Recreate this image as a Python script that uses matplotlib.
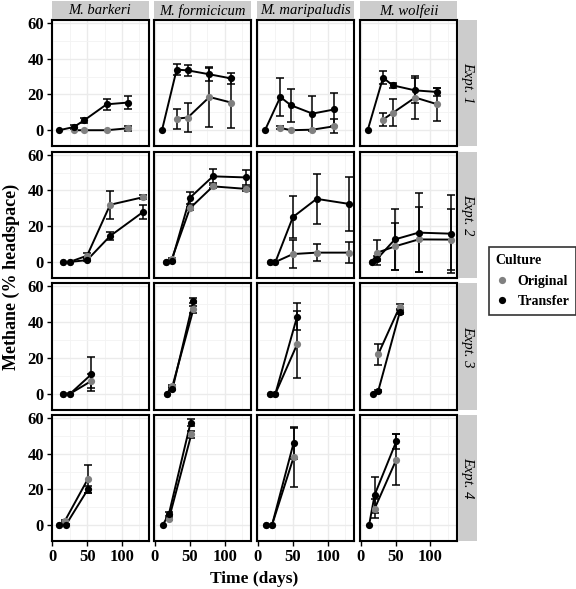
import matplotlib
matplotlib.use('Agg')
import matplotlib.pyplot as plt
from matplotlib.lines import Line2D
import numpy as np

plt.rcParams['font.family'] = ['Liberation Serif', 'DejaVu Serif']

SPECIES = ['M. barkeri', 'M. formicicum', 'M. maripaludis', 'M. wolfeii']
EXPTS = ['Expt. 1', 'Expt. 2', 'Expt. 3', 'Expt. 4']
CULTURES = ['Original', 'Transfer']
X_TICKS = [0, 50, 100]
Y_TICKS = [0, 20, 40, 60]

# [expt][species] -> list of values
DAYS_T = [
    [[10, 31, 46, 78, 109], [10, 31, 47, 78, 109], [10, 32, 47, 78, 109], [10, 32, 46, 78, 110]],
    [[16, 25, 50, 83, 130], [16, 24, 50, 83, 130], [17, 25, 50, 84, 130], [16, 24, 49, 83, 130]],
    [[16, 26, 56], [17, 25, 55], [17, 25, 56], [17, 25, 56]],
    [[10, 20, 51], [11, 20, 51], [11, 20, 51], [12, 20, 51]],
]
CH4_T = [
    [[0, 1.8, 5.6, 14.5, 15.5], [0, 33.9, 33.5, 31.3, 29.0], [0, 18.6, 14.0, 9.3, 11.6], [0, 29.4, 25.1, 22.3, 21.4]],
    [[0, 0, 1.0, 14.5, 27.9], [0, 0.5, 35.9, 47.9, 47.3], [0, 0, 25.1, 35.3, 32.5], [0, 1.9, 12.6, 16.4, 15.8]],
    [[0, 0, 10.7], [0, 2.4, 52.0], [0, 0, 43.0], [0, 1.3, 45.5]],
    [[0, 0.4, 20.0], [0, 6.4, 57.5], [0, 0, 46.0], [0, 17.0, 46.9]],
]
SD_T = [
    [[0, 1.0, 1.5, 3.2, 3.8], [0, 3.2, 3.2, 3.7, 3.0], [0, 10.5, 9.3, 9.9, 9.2], [0, 3.5, 1.5, 7.0, 2.5]],
    [[0, 0, 0.5, 2.0, 4.0], [0, 0.5, 3.5, 4.0, 4.0], [0, 0, 11.6, 14.0, 15.0], [0, 1.5, 17.0, 22.0, 21.9]],
    [[0, 0, 9.5], [0, 0.5, 1.5], [0, 0, 7.5], [0, 0.5, 1.0]],
    [[0, 0.5, 2.0], [0, 1.0, 2.0], [0, 0, 9.0], [0, 10.0, 4.0]],
]
DAYS_O = [
    [[31, 46, 78, 109], [31, 47, 78, 109], [32, 47, 78, 109], [32, 46, 78, 110]],
    [[16, 25, 50, 83, 130], [16, 24, 50, 83, 130], [17, 25, 50, 84, 130], [16, 24, 49, 83, 130]],
    [[16, 26, 56], [17, 25, 55], [17, 25, 56], [25, 56]],
    [[10, 18, 51], [20, 52], [11, 20, 51], [20, 51]],
]
CH4_O = [
    [[0, 0, 0, 1.1], [6.5, 7.1, 18.6, 15.5], [1.3, 0, 0.3, 2.2], [6.0, 9.7, 18.3, 14.5]],
    [[0, 0, 3.5, 32.0, 36.2], [0, 1.5, 30.0, 42.3, 40.9], [0, 0, 4.4, 5.2, 5.2], [0, 5.2, 8.7, 12.6, 12.5]],
    [[0, 0, 7.0], [0, 4.1, 47.2], [0, 0, 27.5], [21.9, 48.7]],
    [[0, 2.3, 25.8], [3.6, 50.8], [0, 0, 38.0], [9.3, 36.7]],
]
SD_O = [
    [[0, 0, 0, 1.5], [5.6, 8.0, 17.0, 14.0], [0.8, 0, 0, 4.0], [3.8, 7.6, 12.0, 9.3]],
    [[0, 0, 1.5, 7.8, 1.0], [0, 0.5, 1.0, 1.0, 1.0], [0, 0, 7.7, 4.7, 6.0], [0, 6.8, 13.0, 18.0, 17.2]],
    [[0, 0, 4.0], [0, 0.5, 2.0], [0, 0, 18.7], [6.0, 1.5]],
    [[0, 0.5, 8.0], [0.5, 2.0], [0, 0, 16.5], [5.5, 14.3]],
]

COLORS = {'Original': '#808080', 'Transfer': '#000000'}

W, H = 576, 589
fig = plt.figure(figsize=(W / 100, H / 100), dpi=100)

lefts = [51.5, 154.3, 257.3, 360.0]
pw = 97.0
tops = [20.0, 151.7, 283.3, 415.0]
ph = 126.3


def rect(x, y, w, h):
    return [x / W, 1 - (y + h) / H, w / W, h / H]


for r in range(4):
    for c in range(4):
        ax = fig.add_axes(rect(lefts[c], tops[r], pw, ph))
        ax.set_xlim(-1, 138)
        ax.set_ylim(-9, 61.7)
        ax.set_xticks(X_TICKS)
        ax.set_yticks(Y_TICKS)
        ax.set_xticks([25, 75, 125], minor=True)
        ax.set_yticks([10, 30, 50], minor=True)
        ax.grid(which='major', color='#EBEBEB', lw=1.0, zorder=0)
        ax.grid(which='minor', color='#F3F3F3', lw=0.6, zorder=0)
        ax.set_axisbelow(True)
        for sp in ax.spines.values():
            sp.set_linewidth(1.5)
            sp.set_color('black')
        ax.tick_params(which='minor', length=0)
        ax.tick_params(which='major', length=3.5, width=1.0, pad=2, labelsize=12)
        if c != 0:
            ax.tick_params(axis='y', length=0, labelleft=False)
        if r != 3:
            ax.tick_params(axis='x', length=0, labelbottom=False)
        for lab in ax.get_xticklabels() + ax.get_yticklabels():
            lab.set_fontweight('bold')

        series = [
            ('Original', DAYS_O[r][c], CH4_O[r][c], SD_O[r][c]),
            ('Transfer', DAYS_T[r][c], CH4_T[r][c], SD_T[r][c]),
        ]
        for name, d, m, s in series:
            d = np.array(d, float); m = np.array(m, float); s = np.array(s, float)
            ax.plot(d, m, color='black', lw=1.4, zorder=2, solid_capstyle='butt')
        for name, d, m, s in series:
            d = np.array(d, float); m = np.array(m, float); s = np.array(s, float)
            k = s > 0
            if k.any():
                ax.errorbar(d[k], m[k], yerr=s[k], fmt='none', ecolor='black',
                            elinewidth=1.1, capsize=2.6, capthick=1.1, zorder=3)
        for name, d, m, s in series:
            ax.plot(d, m, 'o', color=COLORS[name], ms=5.2, mew=0, zorder=4,
                    linestyle='none')

        if r == 0:
            sax = fig.add_axes(rect(lefts[c], 0.5, pw, 18.8))
            sax.set_facecolor('#CCCCCC')
            sax.set_xticks([]); sax.set_yticks([])
            for sp in sax.spines.values():
                sp.set_visible(False)
            sax.text(0.5, 0.45, SPECIES[c], ha='center', va='center',
                     fontsize=10.5, style='italic', transform=sax.transAxes)
        if c == 3:
            sax = fig.add_axes(rect(458.3, tops[r], 18.5, ph))
            sax.set_facecolor('#CCCCCC')
            sax.set_xticks([]); sax.set_yticks([])
            for sp in sax.spines.values():
                sp.set_visible(False)
            sax.text(0.5, 0.5, EXPTS[r], ha='center', va='center', rotation=-90,
                     fontsize=10.5, style='italic', transform=sax.transAxes)

fig.text(254 / W, 1 - 579 / H, 'Time (days)', ha='center', va='center',
         fontsize=12.5, fontweight='bold')
fig.text(11 / W, 1 - 277 / H, 'Methane (% headspace)', ha='center', va='center',
         rotation=90, fontsize=13, fontweight='bold')

handles = [Line2D([], [], marker='o', color=COLORS[n], linestyle='none', ms=5.2, mew=0)
           for n in CULTURES]
leg = fig.legend(handles, CULTURES, title='Culture', loc='upper left',
                 bbox_to_anchor=(488.5 / W, 1 - 247 / H), frameon=True,
                 fancybox=False, edgecolor='black', alignment='left',
                 prop={'weight': 'bold', 'size': 10},
                 title_fontproperties={'weight': 'bold', 'size': 10},
                 handlelength=1.0, handletextpad=0.6, borderpad=0.5,
                 labelspacing=0.55, borderaxespad=0)
leg.get_frame().set_linewidth(1.2)

fig.savefig('out.png', dpi=100)
